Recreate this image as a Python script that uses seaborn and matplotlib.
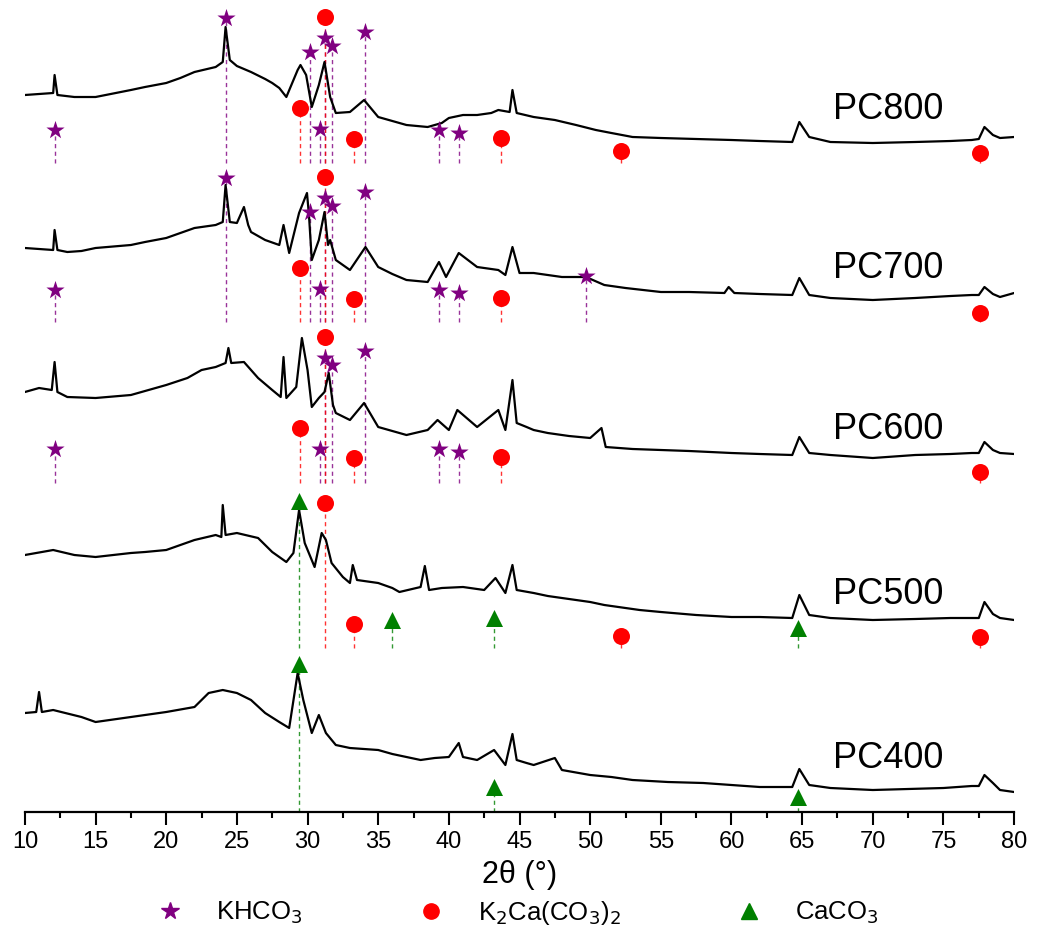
import numpy as np
import pandas as pd
import seaborn as sns
import matplotlib.pyplot as plt
from matplotlib.lines import Line2D
from matplotlib.ticker import MultipleLocator

# XRD traces: (2theta in deg, intensity a.u. above each panel floor)
pc800 = [(10, 68), (12.0, 70), (12.1, 88), (12.3, 68), (13.5, 66), (15, 66), (17.5, 73), (18.5, 76),
         (20, 80), (21, 85), (22, 91), (23.5, 96), (24.0, 101), (24.2, 136), (24.5, 103), (25, 97),
         (26, 91), (27, 84), (27.5, 80), (28, 75), (28.5, 66), (29.3, 93), (29.5, 98), (29.9, 88),
         (30.3, 56), (30.8, 78), (31.2, 101), (31.6, 66), (32, 50), (33, 51), (34, 63), (35, 46),
         (36, 42), (37, 38), (38.5, 36), (39.5, 40), (40, 45), (41, 48), (42, 48), (43, 50),
         (43.5, 53), (44.3, 51), (44.5, 73), (44.8, 50), (46, 46), (47.5, 43), (49, 38), (50.4, 33),
         (51.5, 30), (53, 26), (55, 25), (57.5, 24), (60, 23), (62, 22), (64.3, 21), (64.8, 41),
         (65.5, 26), (67, 21), (70, 20), (73, 21), (75.5, 22), (77, 23), (77.5, 24), (77.9, 36),
         (78.5, 28), (79, 25), (80, 26)]

pc700 = [(10, 74), (12.0, 72), (12.1, 92), (12.3, 72), (13, 70), (14, 71), (15, 74), (17.5, 77),
         (18.5, 80), (20, 84), (21, 89), (22, 94), (23.5, 97), (24.0, 100), (24.2, 137), (24.5, 100),
         (25.0, 99), (25.5, 115), (25.8, 97), (26, 90), (27, 82), (28, 77), (28.3, 97), (28.7, 69),
         (29.4, 109), (29.96, 129), (30.1, 107), (30.3, 62), (30.8, 82), (31.2, 110), (31.45, 77),
         (31.6, 82), (32, 62), (33, 52), (34.1, 75), (35, 55), (36, 48), (37, 42), (38.5, 40),
         (39.3, 60), (39.8, 45), (40.7, 69), (42, 55), (43.5, 52), (44.0, 47), (44.5, 75), (45, 49),
         (46, 49), (48, 45), (49.7, 45), (51, 37), (52.5, 34), (55, 30), (57, 30), (59.5, 29),
         (59.8, 35), (60.2, 29), (62, 28), (64.3, 27), (64.8, 44), (65.5, 27), (67, 24), (70, 22),
         (73, 24), (75.5, 26), (77, 27), (77.5, 27), (77.9, 35), (78.5, 28), (79, 25), (80, 29)]

pc600 = [(10, 91), (11, 95), (11.9, 93), (12.1, 121), (12.3, 91), (13, 86), (15, 85), (17.5, 88),
         (20, 98), (21.5, 105), (22.5, 113), (23.5, 116), (24.2, 120), (24.4, 135), (24.6, 120),
         (25.5, 121), (26.5, 105), (27.5, 93), (28.1, 86), (28.3, 126), (28.5, 85), (29.2, 96),
         (29.6, 145), (30.0, 113), (30.3, 76), (30.8, 85), (31.2, 91), (31.5, 110), (31.8, 78),
         (32, 70), (33, 63), (34.0, 80), (35, 56), (36, 52), (37, 48), (38.5, 53), (39.2, 63),
         (40, 53), (40.6, 73), (42, 56), (43.5, 73), (44.0, 53), (44.5, 103), (44.8, 60), (45.5, 56),
         (46, 53), (47, 50), (48.5, 47), (50, 45), (50.8, 55), (51.1, 36), (53, 34), (55, 33),
         (57, 32), (60, 30), (62, 29), (64.3, 28), (64.8, 46), (65.5, 30), (67, 28), (70, 25),
         (73, 28), (75.5, 29), (77, 30), (77.5, 30), (77.9, 41), (78.5, 33), (79, 30), (80, 29)]

pc500 = [(10, 93), (12, 98), (13.5, 93), (15, 91), (17.5, 95), (18.5, 96), (20, 98), (21, 103),
         (22, 108), (23.5, 113), (23.9, 111), (24.0, 143), (24.2, 113), (25, 115), (26.5, 110),
         (27.5, 96), (28.5, 86), (29.0, 95), (29.4, 138), (29.8, 105), (30.5, 81), (31.0, 115),
         (31.3, 108), (31.7, 85), (32.5, 71), (33.0, 65), (33.2, 83), (33.5, 68), (35, 65), (36, 60),
         (36.5, 56), (38, 61), (38.3, 82), (38.6, 58), (39.5, 60), (41, 61), (42.5, 58), (43.3, 70),
         (44.0, 55), (44.5, 83), (44.8, 58), (46, 55), (47, 52), (48, 50), (50, 46), (51, 43),
         (52, 41), (53.5, 38), (55, 36), (57.5, 33), (60, 31), (62, 31), (64.3, 30), (64.8, 53),
         (65.5, 33), (67, 30), (70, 28), (73, 29), (75.5, 30), (77, 30), (77.5, 30), (77.9, 46),
         (78.5, 34), (79, 30), (80, 28)]

pc400 = [(10, 99), (10.8, 100), (11.0, 120), (11.2, 100), (12, 102), (14, 95), (15, 90), (17.5, 95),
         (20, 100), (22, 105), (23, 119), (24, 122), (25, 119), (26, 112), (27, 99), (28, 90),
         (28.7, 84), (29.3, 139), (29.7, 112), (30.3, 79), (30.8, 97), (31.3, 79), (32, 67), (33, 64),
         (35, 62), (36, 58), (37, 55), (38, 52), (39, 54), (40, 55), (40.7, 69), (41.0, 55), (42, 52),
         (43.2, 62), (44, 47), (44.5, 78), (44.8, 52), (45.5, 49), (46, 47), (47.5, 54), (48, 42),
         (50, 37), (51.5, 35), (53, 32), (55.5, 30), (58, 29), (60, 27), (62, 25), (64.3, 25),
         (64.8, 43), (65.5, 27), (67, 24), (70, 22), (72.5, 23), (75, 24), (77, 26), (77.5, 26),
         (77.9, 37), (78.5, 29), (79, 22), (80, 20)]

# reference peak markers (2theta, marker height above panel floor)
pc800_khco3 = [(24.2, 145), (31.2, 125), (31.7, 117), (30.2, 111), (34.1, 131),
               (12.1, 33), (30.9, 34), (39.3, 33), (40.7, 30)]
pc800_k2ca = [(31.2, 146), (29.5, 55), (33.3, 24), (43.7, 25), (52.2, 12), (77.6, 10)]
pc800_caco3 = []

pc700_khco3 = [(24.2, 144), (31.2, 124), (31.7, 116), (30.2, 110), (34.1, 130),
               (12.1, 32), (30.9, 33), (39.3, 32), (40.7, 29), (49.7, 46)]
pc700_k2ca = [(31.2, 145), (29.5, 54), (33.3, 23), (43.7, 24), (77.6, 9)]
pc700_caco3 = []

pc600_khco3 = [(31.2, 125), (31.7, 118), (34.1, 132),
               (12.1, 34), (30.9, 34), (39.3, 34), (40.7, 31)]
pc600_k2ca = [(31.2, 146), (29.5, 55), (33.3, 25), (43.7, 26), (77.6, 11)]
pc600_caco3 = []

pc500_khco3 = []
pc500_k2ca = [(31.2, 145), (33.3, 24), (52.2, 12), (77.6, 11)]
pc500_caco3 = [(29.4, 147), (36.0, 28), (43.2, 30), (64.7, 20)]

pc400_khco3 = []
pc400_k2ca = []
pc400_caco3 = [(29.4, 148), (43.2, 25), (64.7, 15)]

samples = ['PC800', 'PC700', 'PC600', 'PC500', 'PC400']
offsets = [649, 490, 329, 164, 0]

traces = {
    'PC800': (pc800, pc800_khco3, pc800_k2ca, pc800_caco3),
    'PC700': (pc700, pc700_khco3, pc700_k2ca, pc700_caco3),
    'PC600': (pc600, pc600_khco3, pc600_k2ca, pc600_caco3),
    'PC500': (pc500, pc500_khco3, pc500_k2ca, pc500_caco3),
    'PC400': (pc400, pc400_khco3, pc400_k2ca, pc400_caco3),
}

phase_style = [('#800080', '*', 190), ('#ff0000', 'o', 150), ('#008000', '^', 150)]

sns.set_style('white')
plt.rcParams['font.family'] = ['Liberation Sans', 'DejaVu Sans']
plt.rcParams['text.color'] = 'black'
plt.rcParams['xtick.color'] = 'black'
plt.rcParams['axes.labelcolor'] = 'black'

fig = plt.figure(figsize=(10.38, 9.42), dpi=100)
ax = fig.add_axes([0.024, 0.138, 0.953, 0.862])

for name, off in zip(samples, offsets):
    pts, khco3, k2ca, caco3 = traces[name]
    df = pd.DataFrame(pts, columns=['2theta', 'I'])
    df['I'] = df['I'] + off
    sns.lineplot(data=df, x='2theta', y='I', color='black', lw=1.6, ax=ax,
                 estimator=None, sort=True, zorder=2)
    for peaks, (col, mk, size) in zip([khco3, k2ca, caco3], phase_style):
        if not peaks:
            continue
        px = [p[0] for p in peaks]
        py = [p[1] + off for p in peaks]
        ax.vlines(px, off, py, colors=col, linestyles=(0, (3, 2.5)), lw=1.0, alpha=0.8, zorder=1)
        sns.scatterplot(x=px, y=py, color=col, marker=mk, s=size, linewidth=0, ax=ax, zorder=3)
    ax.text(67.2, off + 54, name, fontsize=26, ha='left', va='center', color='black')

ax.set_xlim(10, 80)
ax.set_ylim(0, 812)
ax.xaxis.set_major_locator(MultipleLocator(5))
ax.xaxis.set_minor_locator(MultipleLocator(2.5))
ax.set_yticks([])
for s in ['left', 'top', 'right']:
    ax.spines[s].set_visible(False)
ax.spines['bottom'].set_linewidth(1.6)
ax.spines['bottom'].set_color('black')
ax.tick_params(axis='x', which='major', direction='out', length=9, width=1.5,
               labelsize=17, pad=5, bottom=True, color='black', labelcolor='black')
ax.tick_params(axis='x', which='minor', direction='out', length=4.5, width=1.5,
               bottom=True, color='black')
ax.set_xlabel('2θ (°)', fontsize=22, labelpad=5)
ax.set_ylabel('')

handles = [Line2D([], [], color=c, marker=m, ls='none', markersize=ms)
           for (c, m, _), ms in zip(phase_style, [13, 11, 12])]
fig.legend(handles, ['KHCO$_3$', 'K$_2$Ca(CO$_3$)$_2$', 'CaCO$_3$'],
           loc='center', bbox_to_anchor=(0.493, 0.031), ncol=3, frameon=False,
           fontsize=18.5, columnspacing=4.0, handletextpad=0.8)

fig.savefig('out.png', dpi=100)
